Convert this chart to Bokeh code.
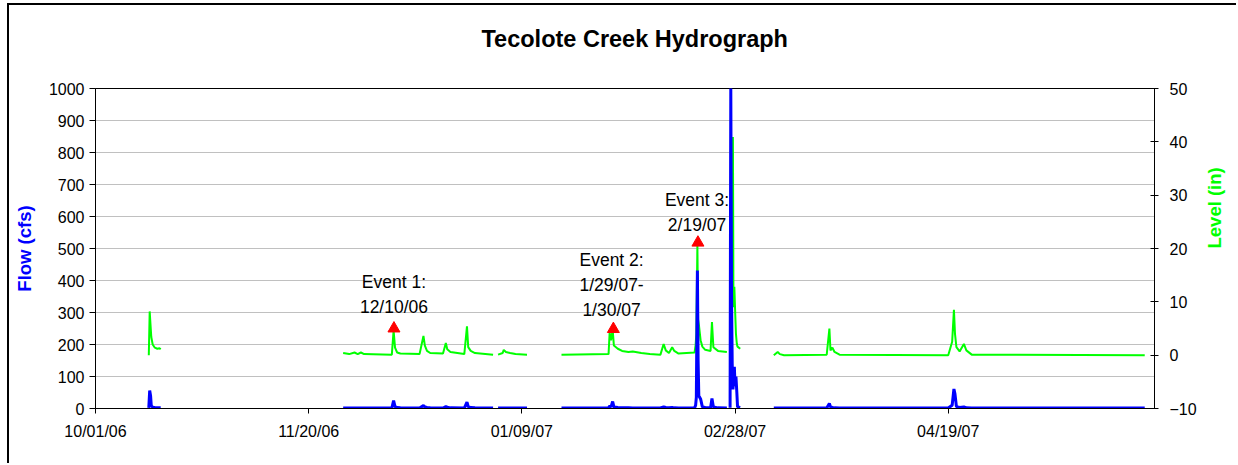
import math
import numpy as np
import pandas as pd
from bokeh.plotting import figure
from bokeh.models import Range1d, LinearAxis, FixedTicker, DatetimeTickFormatter, ColumnDataSource, Div
from bokeh.core.properties import value
from bokeh.embed import file_html
from bokeh.resources import INLINE

# ---------------- data ----------------
times = [
    # gauge record 1
    "2006-10-13 12:00", "2006-10-13 17:00", "2006-10-13 22:00", "2006-10-14 02:00",
    "2006-10-14 10:00", "2006-10-14 22:00", "2006-10-15 12:00", "2006-10-16 00:00",
    "2006-10-16 07:00", "2006-10-16 08:00",
    # gauge record 2
    "2006-11-28 02:00", "2006-11-29 12:00", "2006-11-30 18:00", "2006-12-01 12:00",
    "2006-12-02 06:00", "2006-12-03 00:00", "2006-12-09 12:00", "2006-12-09 22:00",
    "2006-12-10 06:00", "2006-12-10 18:00", "2006-12-11 12:00", "2006-12-16 00:00",
    "2006-12-16 22:00", "2006-12-17 06:00", "2006-12-17 18:00", "2006-12-18 12:00",
    "2006-12-21 12:00", "2006-12-22 04:00", "2006-12-22 12:00", "2006-12-23 06:00",
    "2006-12-26 12:00", "2006-12-27 03:00", "2006-12-27 10:00", "2006-12-28 00:00",
    "2006-12-29 00:00", "2007-01-02 06:00", "2007-01-02 07:00",
    # gauge record 3
    "2007-01-03 10:00", "2007-01-04 12:00", "2007-01-04 18:00", "2007-01-05 06:00",
    "2007-01-06 06:00", "2007-01-07 12:00", "2007-01-10 05:00", "2007-01-10 06:00",
    # gauge record 4
    "2007-01-18 07:00", "2007-01-29 08:00", "2007-01-29 14:00", "2007-01-29 22:00",
    "2007-01-30 07:00", "2007-01-30 14:00", "2007-01-31 12:00", "2007-02-01 12:00",
    "2007-02-03 00:00", "2007-02-04 00:00", "2007-02-06 00:00", "2007-02-08 00:00",
    "2007-02-10 12:00", "2007-02-11 06:00", "2007-02-11 18:00", "2007-02-12 12:00",
    "2007-02-13 06:00", "2007-02-13 18:00", "2007-02-14 18:00", "2007-02-18 12:00",
    "2007-02-18 18:00", "2007-02-18 22:00", "2007-02-19 04:00", "2007-02-19 08:00",
    "2007-02-19 12:00", "2007-02-19 22:00", "2007-02-20 08:00", "2007-02-21 00:00",
    "2007-02-22 06:00", "2007-02-22 14:00", "2007-02-22 22:00", "2007-02-24 00:00",
    "2007-02-26 02:00", "2007-02-26 03:00",
    # gauge record 5
    "2007-02-26 20:00", "2007-02-27 00:00", "2007-02-27 04:00", "2007-02-27 08:00",
    "2007-02-27 12:00", "2007-02-27 15:00", "2007-02-27 20:00", "2007-02-28 00:00",
    "2007-02-28 05:00", "2007-02-28 10:00", "2007-02-28 14:00", "2007-03-01 05:00",
    "2007-03-01 06:00",
    # gauge record 6
    "2007-03-09 02:00", "2007-03-10 00:00", "2007-03-10 12:00", "2007-03-11 12:00",
    "2007-03-21 12:00", "2007-03-22 03:00", "2007-03-22 09:00", "2007-03-22 20:00",
    "2007-03-23 08:00", "2007-03-24 12:00", "2007-04-19 00:00", "2007-04-19 22:00",
    "2007-04-20 08:00", "2007-04-20 14:00", "2007-04-20 22:00", "2007-04-21 16:00",
    "2007-04-22 16:00", "2007-04-23 06:00", "2007-04-24 12:00", "2007-06-04 02:00",
]

flow_cfs = [
    2, 56, 40, 8, 4, 3, 2, 2, 2, None,
    1.5, 1.5, 1.5, 1.5, 1.5, 1.5, 1.5, 25, 6, 3, 2, 1.5, 9, 5, 3, 2,
    1.5, 6, 4, 2, 1.5, 20, 6, 3, 2, 1.5, None,
    1.5, 1.5, 1.5, 1.5, 1.5, 1.5, 1.5, None,
    1.5, 1.5, 8, 5, 22, 5, 3, 2, 2, 1.5, 1.5, 1.5, 1.5, 5, 3, 2, 3, 2, 1.5, 2,
    10, 35, 431, 150, 40, 30, 5, 3, 2, 31, 5, 2, 1.5, None,
    2, 1005, 360, 140, 60, 80, 130, 70, 100, 50, 5, 3, None,
    1.5, 1.5, 1.5, 1.5, 1.5, 16, 5, 3, 2, 1.5, 1.5, 10, 61, 45, 6, 3, 5, 2, 1.5, 1.5,
]

level_in = [
    0.0, 8.2, 5.5, 3.4, 2.0, 1.4, 1.2, 1.3, 1.1, None,
    0.4, 0.2, 0.5, 0.2, 0.5, 0.2, 0.1, 4.6, 1.4, 0.5, 0.3, 0.2, 3.6, 1.8, 0.8, 0.4,
    0.3, 2.3, 1.1, 0.6, 0.2, 5.4, 1.5, 0.8, 0.4, 0.1, None,
    0.1, 0.4, 1.0, 0.6, 0.4, 0.2, 0.1, None,
    0.1, 0.2, 4.2, 2.8, 4.8, 1.8, 1.2, 0.8, 0.6, 0.7, 0.4, 0.2, 0.1, 2.1, 0.9, 0.4, 1.5, 0.8, 0.3, 0.5,
    1.9, 4.0, 20.6, 6.7, 5.8, 2.8, 1.6, 1.0, 0.8, 6.2, 1.5, 0.8, 0.6, None,
    -0.4, 5.0, 20.0, 30.0, 40.9, 9.0, 12.8, 8.7, 4.0, 2.1, 1.6, 1.2, None,
    0.0, 0.6, 0.2, 0.0, 0.1, 5.0, 0.9, 1.4, 0.6, 0.1, 0.0, 2.5, 8.5, 4.0, 1.5, 0.7, 2.1, 0.9, 0.1, 0.0,
]

event_labels = ["Event 1:\n12/10/06", "Event 2:\n1/29/07-\n1/30/07", "Event 3:\n2/19/07"]
event_marker_times = ["2006-12-10 00:00", "2007-01-30 11:00", "2007-02-19 07:00"]
event_marker_level = [5.0, 4.9, 21.1]

flow_ticks = [0, 100, 200, 300, 400, 500, 600, 700, 800, 900, 1000]
level_ticks = [-10, 0, 10, 20, 30, 40, 50]
date_ticks = ["2006-10-01", "2006-11-20", "2007-01-09", "2007-02-28", "2007-04-19"]

chart_title = "Tecolote Creek Hydrograph"

# label placement (layout only)
label_times = ["2006-12-10 00:00", "2007-01-30 01:00", "2007-02-19 02:00"]
label_level_pos = [11.4, 13.1, 26.8]

# ---------------- build ----------------
t = pd.to_datetime(times)
src = ColumnDataSource(dict(
    t=t,
    flow=np.array([np.nan if v is None else v for v in flow_cfs], dtype=float),
    level=np.array([np.nan if v is None else v for v in level_in], dtype=float),
))

FONT = "Liberation Sans"

p = figure(
    width=1229, height=469,
    x_axis_type="datetime",
    x_range=Range1d(pd.Timestamp("2006-10-01"), pd.Timestamp("2007-06-06 09:00")),
    y_range=Range1d(0, 1000),
    output_backend="svg", toolbar_location=None,
    min_border_left=86, min_border_right=75, min_border_top=102, min_border_bottom=47,
)
p.styles = {"position": "absolute", "left": "9px", "top": "-14px"}
p.extra_y_ranges = {"level": Range1d(-10, 50)}
p.background_fill_color = "white"
p.border_fill_color = "white"
p.outline_line_color = "black"
p.outline_line_width = 1

p.title.text = chart_title
p.title.align = "left"
p.title.offset = 386
p.title.text_font = FONT
p.title.text_font_size = "23.5px"
p.title.text_font_style = "bold"
p.title.text_color = "black"
p.title.standoff = 74

# x axis
xa = p.below[0]
xa.ticker = FixedTicker(ticks=[pd.Timestamp(d).value / 1e6 for d in date_ticks])
fmt = "%m/%d/%y"
xa.formatter = DatetimeTickFormatter(
    microseconds=fmt, milliseconds=fmt, seconds=fmt, minsec=fmt, minutes=fmt,
    hourmin=fmt, hours=fmt, days=fmt, months=fmt, years=fmt)
xa.major_label_text_font = FONT
xa.major_label_text_font_size = "16px"
xa.major_label_text_color = "black"
xa.major_tick_out = 5
xa.major_tick_in = 0
xa.minor_tick_out = 0
xa.minor_tick_in = 0
xa.axis_line_color = "black"
xa.major_tick_line_color = "black"
xa.major_label_standoff = 9

# left axis
ya = p.yaxis[0]
ya.ticker = FixedTicker(ticks=flow_ticks)
ya.axis_label = "Flow (cfs)"
ya.axis_label_text_font = FONT
ya.axis_label_text_font_size = "18.5px"
ya.axis_label_text_font_style = "bold"
ya.axis_label_text_color = "#0000ff"
ya.axis_label_standoff = 11
ya.major_label_text_font = FONT
ya.major_label_text_font_size = "16px"
ya.major_label_text_color = "black"
ya.major_tick_out = 6
ya.major_tick_in = 0
ya.minor_tick_out = 0
ya.minor_tick_in = 0
ya.major_label_standoff = 5
ya.axis_line_color = "black"

# right axis
ra = LinearAxis(y_range_name="level", ticker=FixedTicker(ticks=level_ticks), axis_label="Level (in)")
ra.axis_label_text_font = FONT
ra.axis_label_text_font_size = "18.5px"
ra.axis_label_text_font_style = "bold"
ra.axis_label_text_color = "#00ff00"
ra.axis_label_standoff = 15
ra.major_label_text_font = FONT
ra.major_label_text_font_size = "16px"
ra.major_label_text_color = "black"
ra.major_tick_out = 4
ra.major_tick_in = 4
ra.minor_tick_out = 0
ra.minor_tick_in = 0
ra.major_label_standoff = 11
ra.axis_line_color = "black"
try:
    ra.axis_label_orientation = math.pi / 2
except Exception:
    pass
p.add_layout(ra, "right")

p.xgrid.grid_line_color = None
p.ygrid.grid_line_color = "#c0c0c0"
p.ygrid.grid_line_width = 1

# series
p.line("t", "level", source=src, y_range_name="level", line_color="#00ff00", line_width=2)
p.line("t", "flow", source=src, line_color="#0000ff", line_width=3)

p.scatter(x=pd.to_datetime(event_marker_times), y=event_marker_level, y_range_name="level",
          marker="triangle", size=12, fill_color="#ff0000", line_color="#ff0000")

p.text(x=pd.to_datetime(label_times), y=label_level_pos, text=event_labels, y_range_name="level",
       text_font=value(FONT), text_font_size="17.5px", text_color="black",
       text_align="center", text_baseline="middle", text_line_height=1.25)

# chart-area border (top and left edges, as in the original)
frame_border = Div(text="", width=1229, height=460, margin=0,
                   styles={"position": "absolute", "left": "7px", "top": "3px", "margin": "0px",
                           "border-left": "2px solid black", "border-top": "2px solid black",
                           "pointer-events": "none"})

open("out.html", "w").write(file_html([p, frame_border], INLINE))
